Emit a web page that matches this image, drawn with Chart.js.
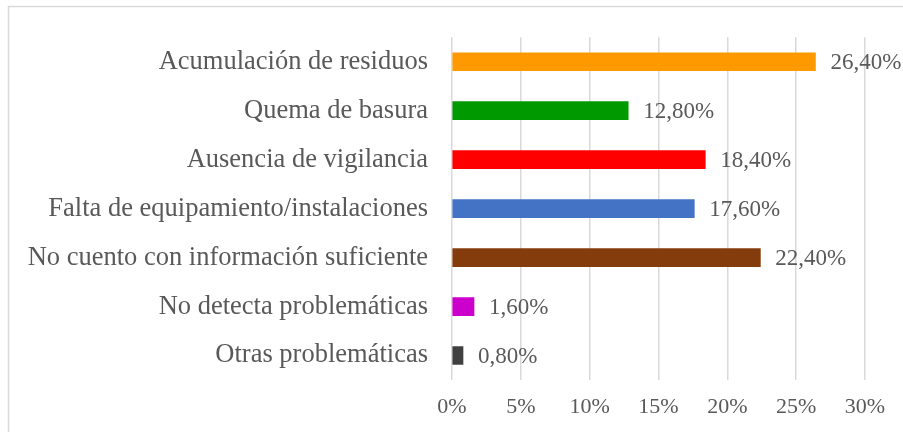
<!DOCTYPE html>
<html>
<head>
<meta charset="utf-8">
<script src="https://cdn.jsdelivr.net/npm/chart.js@4/dist/chart.umd.min.js"></script>
<style>
  html, body { margin: 0; padding: 0; background: #fff; }
  #wrap { width: 903px; height: 432px; position: relative; }
</style>
</head>
<body>
<div id="wrap"><canvas id="chart"></canvas></div>
<script>
const categories = [
  'Acumulación de residuos',
  'Quema de basura',
  'Ausencia de vigilancia',
  'Falta de equipamiento/instalaciones',
  'No cuento con información suficiente',
  'No detecta problemáticas',
  'Otras problemáticas'
]
const values = [26.4, 12.8, 18.4, 17.6, 22.4, 1.6, 0.8]
const barColors = ['#FF9900', '#009900', '#FF0000', '#4472C4', '#843C0C', '#CC00CC', '#404040']
const tickStep = 5
const tickMax = 30

const fontFamily = '"Liberation Serif", "Times New Roman", serif'
const textColor = '#595959'

// draws the value next to each bar, like "26,40%"
const valueLabels = {
  id: 'valueLabels',
  afterDatasetsDraw(chart) {
    const ctx = chart.ctx
    const meta = chart.getDatasetMeta(0)
    ctx.save()
    ctx.font = '23px ' + fontFamily
    ctx.fillStyle = textColor
    ctx.textBaseline = 'middle'
    ctx.textAlign = 'left'
    meta.data.forEach((bar, i) => {
      const txt = values[i].toFixed(2).replace('.', ',') + '%'
      ctx.fillText(txt, bar.x + 15, bar.y + 1)
    })
    ctx.restore()
  }
}

// light frame on the top and left edges
const frame = {
  id: 'frame',
  beforeDraw(chart) {
    const ctx = chart.ctx
    ctx.save()
    ctx.strokeStyle = '#d9d9d9'
    ctx.lineWidth = 1.5
    ctx.beginPath()
    ctx.moveTo(8.5, chart.height)
    ctx.lineTo(8.5, 6.5)
    ctx.lineTo(chart.width, 6.5)
    ctx.stroke()
    ctx.restore()
  }
}

new Chart(document.getElementById('chart'), {
  type: 'bar',
  data: {
    labels: categories,
    datasets: [{
      data: values,
      backgroundColor: barColors,
      barThickness: 18
    }]
  },
  plugins: [frame, valueLabels],
  options: {
    indexAxis: 'y',
    responsive: true,
    maintainAspectRatio: false,
    animation: false,
    layout: { padding: { top: 36, right: 38, left: 0, bottom: 0 } },
    plugins: {
      legend: { display: false },
      tooltip: { enabled: false }
    },
    scales: {
      x: {
        min: 0,
        max: tickMax,
        ticks: {
          stepSize: tickStep,
          color: textColor,
          padding: 14,
          font: { family: fontFamily, size: 22 },
          callback: v => v + '%'
        },
        grid: { color: '#d9d9d9', lineWidth: 1.5, drawTicks: false },
        border: { display: false },
        afterFit: scale => { scale.height = 52 }
      },
      y: {
        ticks: {
          color: textColor,
          padding: 24,
          font: { family: fontFamily, size: 26.5, lineHeight: 1 }
        },
        grid: { display: false, drawTicks: false },
        border: { display: false },
        afterFit: scale => { scale.width = 452 }
      }
    }
  }
})
</script>
</body>
</html>
